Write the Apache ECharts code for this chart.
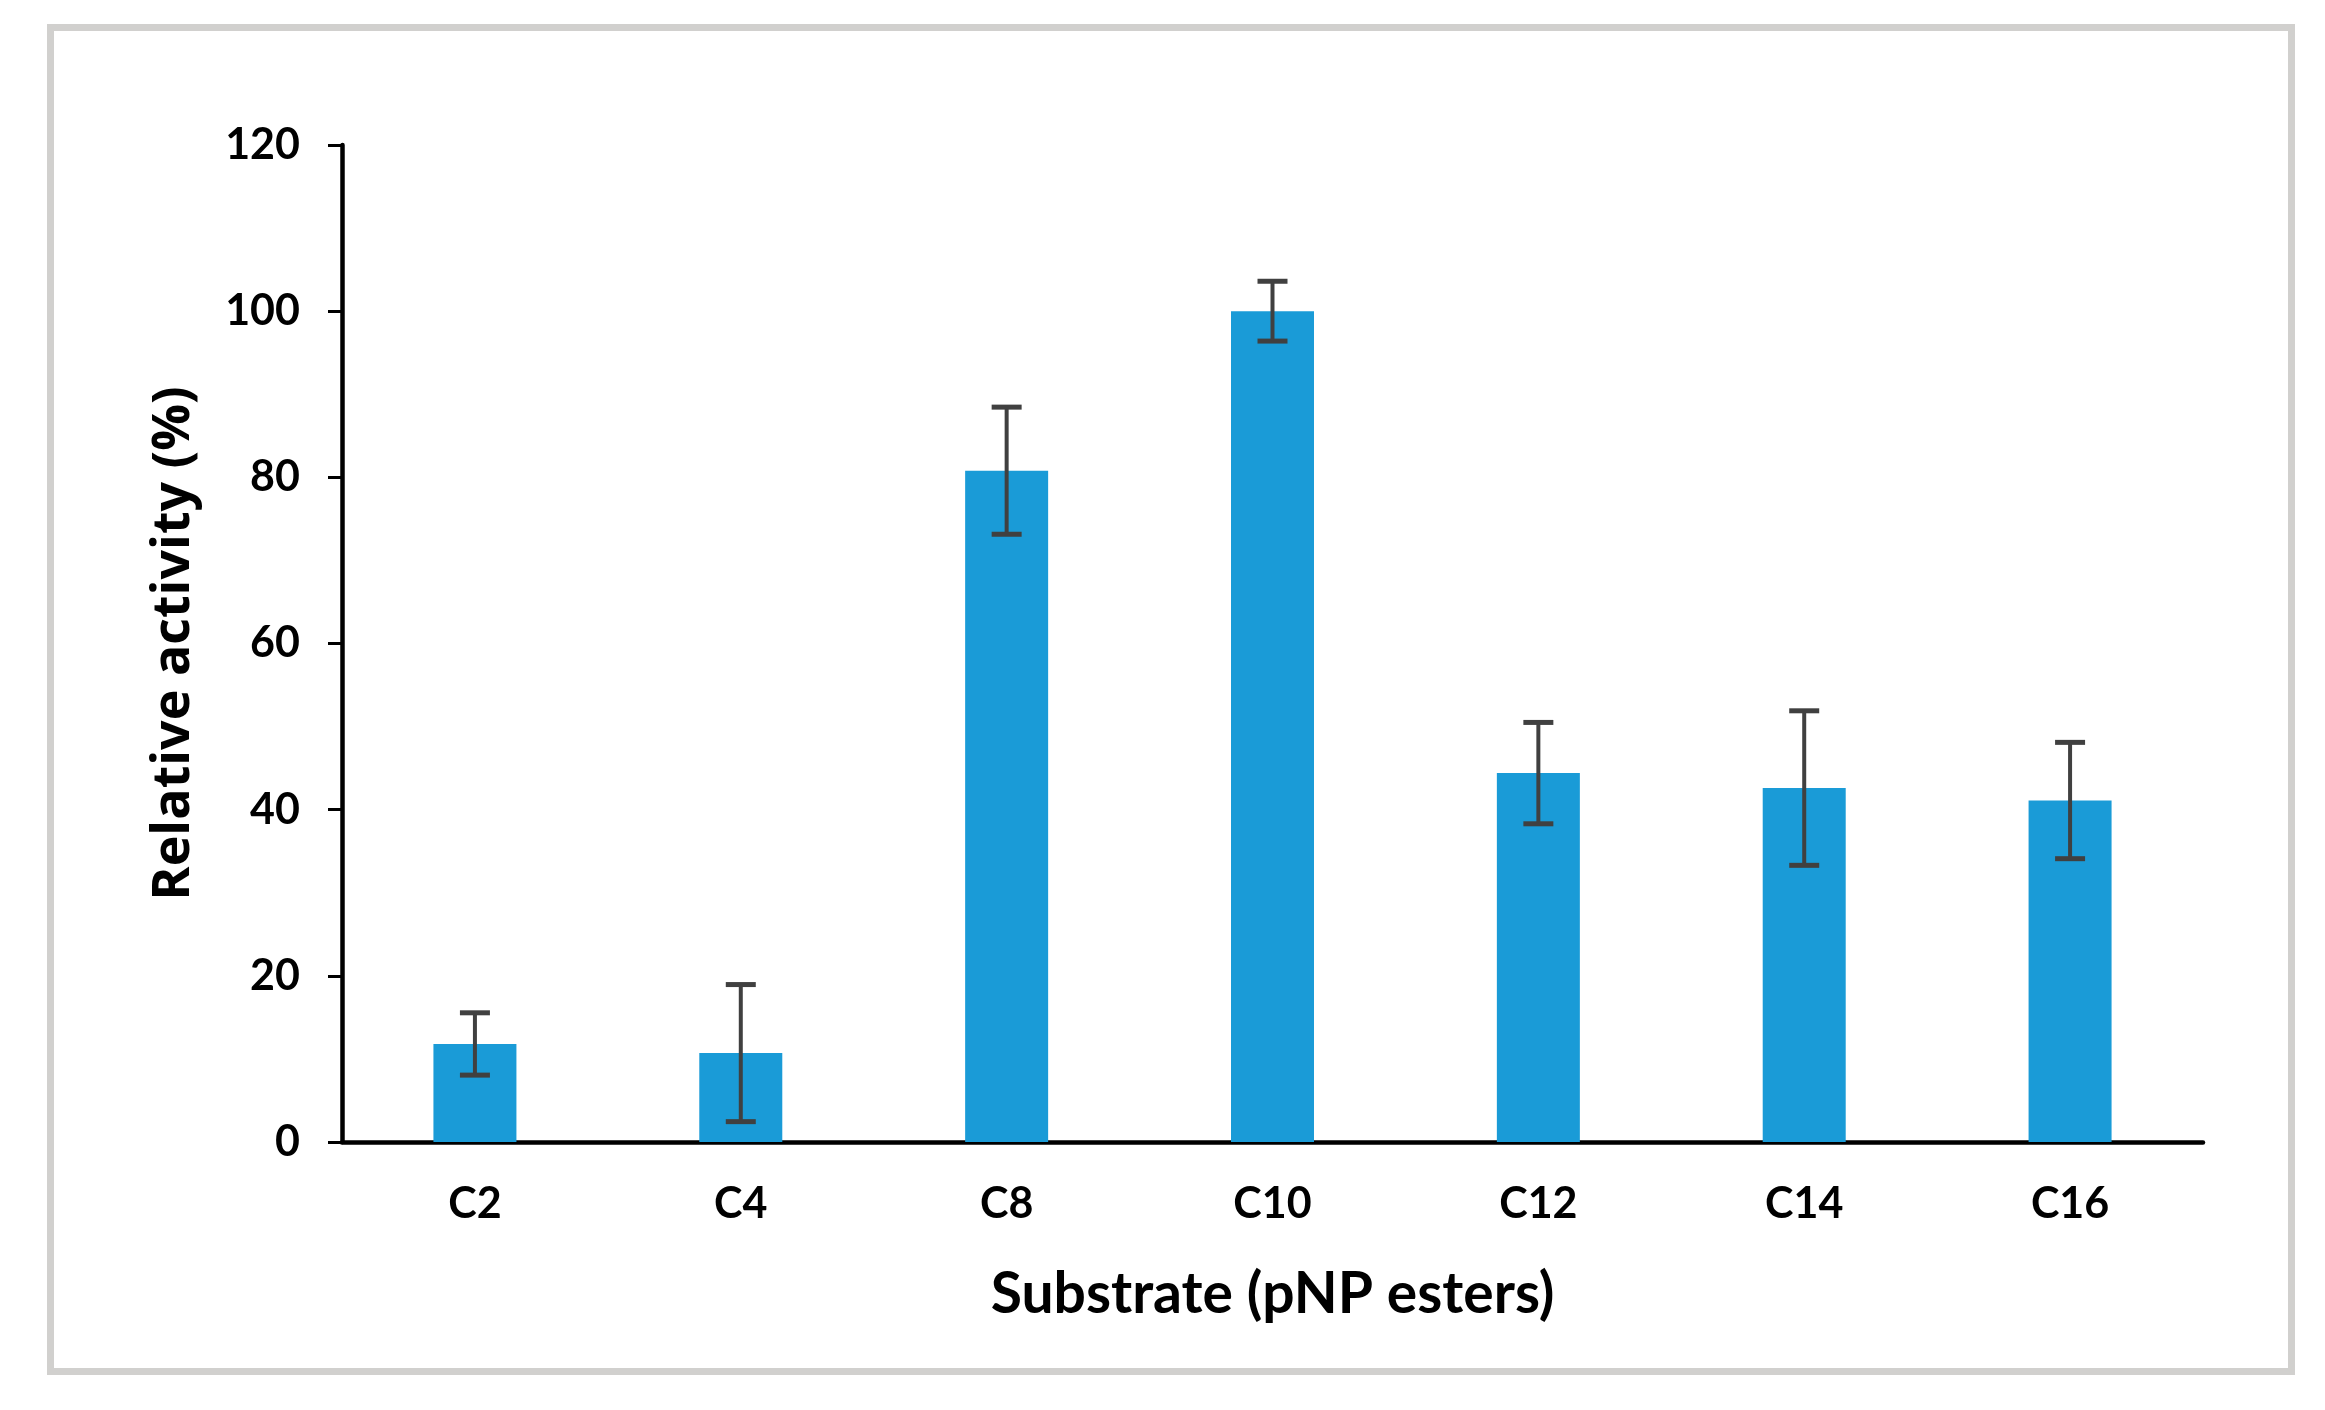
<!DOCTYPE html>
<html>
<head>
<meta charset="utf-8">
<script src="https://cdn.jsdelivr.net/npm/echarts@6/dist/echarts.min.js"></script>
<style>
html,body{margin:0;padding:0;background:#ffffff;}
#chart{width:2325px;height:1410px;}
</style>
</head>
<body>
<div id="chart"></div>
<script>
// Data
const categories = ['C2', 'C4', 'C8', 'C10', 'C12', 'C14', 'C16'];
const activity = [11.8, 10.7, 80.8, 100, 44.4, 42.6, 41.1];
const errorSD = [3.75, 8.25, 7.65, 3.6, 6.1, 9.3, 7.0];
const yTicks = [0, 20, 40, 60, 80, 100, 120];

const xTitle = 'Substrate (pNP esters)';
const yTitle = 'Relative activity (%)';

const chart = echarts.init(document.getElementById('chart'), null, {renderer: 'canvas'});

const errData = categories.map((c, i) => [i, activity[i], errorSD[i]]);

const option = {
  backgroundColor: '#ffffff',
  animation: false,
  graphic: [{
    type: 'rect',
    shape: {x: 50.5, y: 27.5, width: 2241, height: 1344},
    style: {fill: 'none', stroke: '#d1d0ce', lineWidth: 7},
    silent: true,
    z: -10
  }],
  grid: {
    left: 342, right: 122, top: 145, bottom: 268,
    containLabel: false,
    outerBoundsMode: 'none'
  },
  xAxis: {
    type: 'category',
    data: categories,
    name: xTitle,
    nameLocation: 'middle',
    nameGap: 124,
    nameTextStyle: {fontFamily: 'Lato', fontWeight: 'bold', fontSize: 57, color: '#000000'},
    axisLine: {show: true, lineStyle: {color: '#000000', width: 4.5}},
    axisTick: {show: false},
    axisLabel: {fontFamily: 'Lato', fontWeight: 'bold', fontSize: 43, color: '#000000', margin: 41},
    splitLine: {show: false}
  },
  yAxis: {
    type: 'value',
    min: yTicks[0],
    max: yTicks[yTicks.length - 1],
    interval: yTicks[1] - yTicks[0],
    name: yTitle,
    nameLocation: 'middle',
    nameRotate: 90,
    nameGap: 142,
    nameTextStyle: {fontFamily: 'Open Sans', fontWeight: 'bold', fontSize: 52, color: '#000000'},
    axisLine: {show: true, lineStyle: {color: '#000000', width: 4.5}},
    axisTick: {show: true, inside: false, length: 14, lineStyle: {color: '#000000', width: 3}},
    axisLabel: {fontFamily: 'Lato', fontWeight: 'bold', fontSize: 43, color: '#000000', margin: 42},
    splitLine: {show: false}
  },
  series: [
    {
      type: 'bar',
      data: activity,
      barWidth: 83,
      itemStyle: {color: '#1a9bd7'},
      z: 2
    },
    {
      type: 'custom',
      data: errData,
      encode: {x: 0, y: 1},
      z: 5,
      renderItem: function (params, api) {
        const xi = api.value(0);
        const m = api.value(1);
        const s = api.value(2);
        const hi = api.coord([xi, m + s]);
        const lo = api.coord([xi, m - s]);
        const half = 15;
        const st = {stroke: '#404040', lineWidth: 4};
        return {
          type: 'group',
          children: [
            {type: 'line', shape: {x1: hi[0], y1: hi[1], x2: lo[0], y2: lo[1]}, style: st},
            {type: 'line', shape: {x1: hi[0] - half, y1: hi[1], x2: hi[0] + half, y2: hi[1]}, style: {stroke: '#404040', lineWidth: 5}},
            {type: 'line', shape: {x1: lo[0] - half, y1: lo[1], x2: lo[0] + half, y2: lo[1]}, style: {stroke: '#404040', lineWidth: 5}}
          ]
        };
      }
    }
  ]
};

chart.setOption(option);
</script>
</body>
</html>
